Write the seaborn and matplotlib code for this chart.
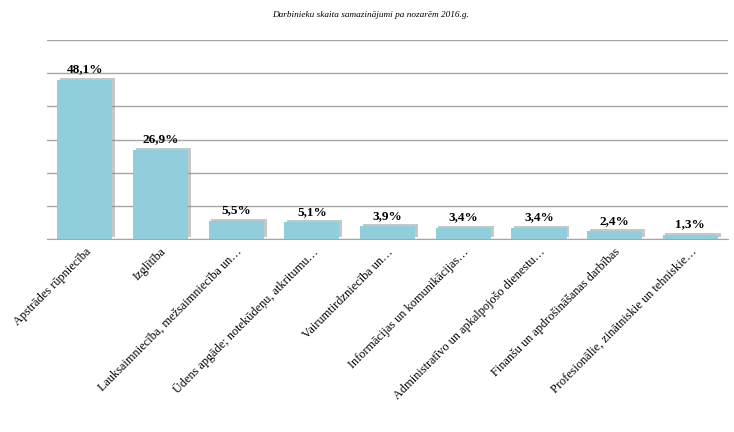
import matplotlib
matplotlib.use('Agg')
import matplotlib.pyplot as plt
import matplotlib.patheffects as pe
from matplotlib.ticker import FixedLocator
import seaborn as sns
import pandas as pd

# Data
nozares = [
    'Apstrādes rūpniecība',
    'Izglītība',
    'Lauksaimniecība, mežsaimniecība un…',
    'Ūdens apgāde; notekūdeņu, atkritumu…',
    'Vairumtirdzniecība un…',
    'Informācijas un komunikācijas…',
    'Administratīvo un apkalpojošo dienestu…',
    'Finanšu un apdrošināšanas darbības',
    'Profesionālie, zinātniskie un tehniskie…',
]
samazinajums = [48.1, 26.9, 5.5, 5.1, 3.9, 3.4, 3.4, 2.4, 1.3]
vertibu_teksti = ['48,1%', '26,9%', '5,5%', '5,1%', '3,9%', '3,4%', '3,4%', '2,4%', '1,3%']

df = pd.DataFrame({'Nozare': nozares, 'Procenti': samazinajums})

sns.set_style('white')
plt.rcParams['font.family'] = ['Liberation Serif', 'DejaVu Serif']
plt.rcParams['text.color'] = 'black'
plt.rcParams['xtick.color'] = 'black'

fig = plt.figure(figsize=(7.34, 4.32), dpi=100)
ax = fig.add_axes([0.064, 0.447, 0.928, 0.46])

sns.barplot(data=df, x='Nozare', y='Procenti', color='#92CDDC', saturation=1,
            width=0.73, ax=ax, zorder=3, edgecolor='none', linewidth=0)

# Excel-like soft shadow on the bars
for p in ax.patches:
    p.set_path_effects([pe.SimplePatchShadow(offset=(2, 1.5), shadow_rgbFace='#909090', alpha=0.5),
                        pe.Normal()])

ax.set_ylim(0, 60)
ax.set_xlim(-0.5, len(nozares) - 0.5)
ax.set_yticks(range(0, 61, 10))
ax.set_yticklabels([])
ax.tick_params(axis='y', length=0)
ax.yaxis.grid(True, color='#A6A6A6', lw=1)
ax.set_axisbelow(True)
for s in ['left', 'right', 'top']:
    ax.spines[s].set_visible(False)
ax.spines['bottom'].set_color('#A6A6A6')

# category labels and boundary ticks
ax.set_xticks(range(len(nozares)))
ax.set_xticklabels(nozares, rotation=45, ha='right', rotation_mode='anchor', fontsize=8.8)
ax.tick_params(axis='x', which='major', length=0, pad=5, labelcolor='black')
ax.xaxis.set_minor_locator(FixedLocator([i - 0.5 for i in range(len(nozares) + 1)]))
ax.tick_params(axis='x', which='minor', length=4, color='#A6A6A6', direction='out')
ax.set_xlabel('')
ax.set_ylabel('')

for i, (v, t) in enumerate(zip(samazinajums, vertibu_teksti)):
    ax.annotate(t, (i, v), xytext=(0, 3), textcoords='offset points',
                ha='center', va='bottom', fontsize=9.5, fontweight='bold', color='black')

fig.text(0.505, 0.965, 'Darbinieku skaita samazinājumi pa nozarēm 2016.g.',
         ha='center', va='center', fontsize=6.7, style='italic', color='black')

fig.savefig('out.png', dpi=100)
